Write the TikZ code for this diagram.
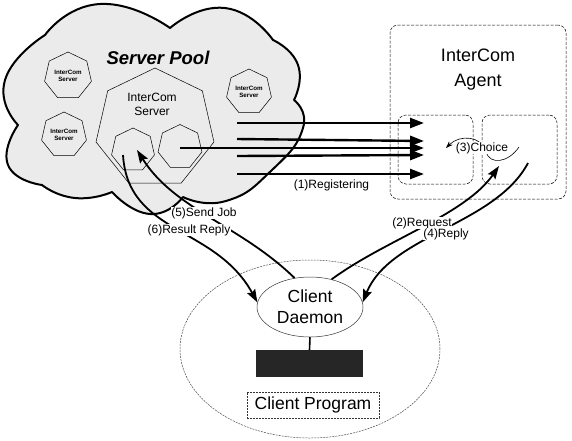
\documentclass[tikz,border=0pt]{standalone}
\usepackage{fontspec}
\setmainfont{Liberation Sans}
\usetikzlibrary{shapes.geometric,arrows.meta}
\begin{document}
\begin{tikzpicture}[x=1pt,y=-1pt,
  hepta/.style={regular polygon,regular polygon sides=7,draw,line width=0.5pt,inner sep=0pt,minimum size=#1},
  tiny/.style={font=\bfseries\fontsize{6.2}{7.5}\selectfont,align=center},
  lbl/.style={font=\fontsize{12}{14}\selectfont,fill=white,inner sep=0.8pt},
  reg/.style={line width=2.4pt,-{Triangle[length=14pt,width=10pt]}},
  flow/.style={line width=1.8pt,-{Stealth[length=13pt,width=9pt,inset=2pt]}},
  dbox/.style={draw,dash pattern=on 3pt off 1.5pt,line width=0.5pt,rounded corners=8pt,inner sep=0pt}
]
\useasboundingbox (0,0) rectangle (572,440);

% cloud (server pool)
\filldraw[fill=gray!16,line width=2pt,line join=round]
 plot[smooth,tension=1] coordinates {(45,35) (100,4) (170,28)}
 -- plot[smooth,tension=1] coordinates {(170,28) (225,8) (273,40)}
 -- plot[smooth,tension=1] coordinates {(273,40) (298,65) (294,100)}
 -- plot[smooth,tension=0.9] coordinates {(294,100) (303,128) (272,170) (226,201) (183,197)}
 -- plot[smooth,tension=1] coordinates {(183,197) (150,214) (112,192)}
 -- plot[smooth,tension=1] coordinates {(112,192) (75,198) (42,185)}
 -- plot[smooth,tension=1] coordinates {(42,185) (8,165) (18,125)}
 -- plot[smooth,tension=1] coordinates {(18,125) (5,80) (45,35)}
 -- cycle;

\node[font=\bfseries\itshape\fontsize{18.5}{20}\selectfont] (pool) at (158,58) {Server Pool};

\node[hepta=121pt] (big) at (155,128.5) {};
\node[font=\fontsize{12}{14}\selectfont,align=center] (bigt) at (152,104) {InterCom\\Server};
\node[hepta=44pt] (hl) at (133,150) {};
\node[hepta=45pt] (hr) at (180,147) {};

\node[hepta=48pt,tiny] (s1) at (68,76) {InterCom\\Server};
\node[hepta=46pt,tiny] (s2) at (64,135) {InterCom\\Server};
\node[hepta=46pt,tiny] (s3) at (249,92) {InterCom\\Server};

% agent
\node[dbox,minimum width=176pt,minimum height=174pt] (agent) at (478,112) {};
\node[font=\fontsize{18}{25}\selectfont,align=center] (agentt) at (478,69.5) {InterCom\\Agent};
\node[dbox,minimum width=75pt,minimum height=69pt] (ab1) at (435.5,149.5) {};
\node[dbox,minimum width=75pt,minimum height=69pt] (ab2) at (519.5,149.5) {};

% registering arrows
\coordinate (r1s) at (237,123); \coordinate (r1e) at (424,123);
\coordinate (r2s) at (237,139); \coordinate (r2e) at (424,141);
\coordinate (r3s) at (180,148); \coordinate (r3e) at (424,148);
\coordinate (r4s) at (237,156); \coordinate (r4e) at (424,155);
\coordinate (r5s) at (237,174); \coordinate (r5e) at (424,174);
\draw[reg] (r1s) -- (r1e);
\draw[reg] (r2s) -- (r2e);
\draw[reg] (r3s) -- (r3e);
\draw[reg] (r4s) -- (r4e);
\draw[reg] (r5s) -- (r5e);

% client side
\node[ellipse,draw=black!70,line width=0.5pt,dash pattern=on 2pt off 1pt,minimum width=260pt,minimum height=178pt] (client) at (310,349) {};
\node[ellipse,draw=black!80,line width=0.5pt,fill=white,minimum width=106pt,minimum height=60pt,inner sep=0pt,align=center,font=\fontsize{17.5}{21}\selectfont] (daemon) at (310,307) {Client\\Daemon};
\node[fill=black!85,minimum width=107pt,minimum height=27pt,inner sep=0pt] (blk) at (309.5,363.5) {};
\draw[line width=1.6pt] (daemon.south) -- (blk.north);
\node[draw=black!80,line width=0.5pt,dash pattern=on 2pt off 1pt,minimum width=132pt,minimum height=26pt,inner sep=0pt,font=\fontsize{17.5}{20}\selectfont] (cp) at (313,405) {Client Program};

% flows
\coordinate (choiceS) at (519,147);
\coordinate (choiceE) at (446,148);
\draw[line width=0.6pt,-{Stealth[length=7pt,width=5pt]}] (choiceS) .. controls (508,163) and (490,165) .. (486,152) .. controls (482,136) and (460,134) .. (choiceE);

\coordinate (reqE) at (499,166);
\draw[flow] (daemon.52) .. controls (385,240) and (465,215) .. (reqE);
\coordinate (repS) at (528,163);
\draw[flow] (repS) .. controls (495,225) and (390,235) .. (daemon.5);
\coordinate (sendE) at (137,150);
\draw[flow] (daemon.118) .. controls (240,225) and (175,210) .. (sendE);
\coordinate (resS) at (123,155);
\draw[flow] (resS) .. controls (128,235) and (215,225) .. (daemon.175);

% labels
\node[lbl] (l1) at (331.5,185) {(1)Registering};
\node[lbl] (l2) at (422,223) {(2)Request};
\node[lbl] (l3) at (482,148) {(3)Choice};
\node[lbl] (l4) at (446,234) {(4)Reply};
\node[lbl] (l5) at (204,213) {(5)Send Job};
\node[lbl] (l6) at (189,230) {(6)Result Reply};
\end{tikzpicture}
\end{document}
